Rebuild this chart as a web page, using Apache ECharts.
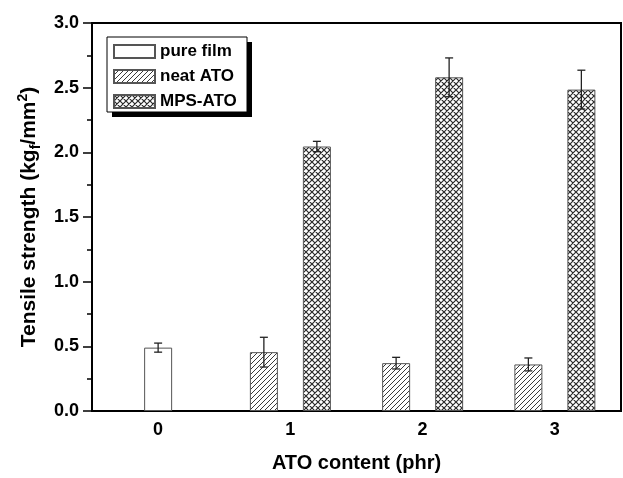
<!DOCTYPE html>
<html><head><meta charset="utf-8">
<script src="https://cdn.jsdelivr.net/npm/echarts@6/dist/echarts.min.js"></script>
<style>html,body{margin:0;padding:0;background:#fff}#c{width:623px;height:478px}</style>
</head><body><div id="c"></div>
<script>
const categories = ['0', '1', '2', '3'];
const pureFilm = [0.49, null, null, null];
const pureFilmErr = [0.035, null, null, null];
const neatATO = [null, 0.455, 0.37, 0.36];
const neatATOErr = [null, 0.115, 0.045, 0.05];
const mpsATO = [null, 2.045, 2.58, 2.485];
const mpsATOErr = [null, 0.04, 0.15, 0.15];
const yTicks = [0, 0.5, 1.0, 1.5, 2.0, 2.5, 3.0];

function makePattern(kind) {
  const s = kind === 'hatch' ? 5 : 6;
  const c = document.createElement('canvas');
  c.width = s; c.height = s;
  const g = c.getContext('2d');
  g.fillStyle = '#fff'; g.fillRect(0, 0, s, s);
  g.strokeStyle = kind === 'hatch' ? '#3a3a3a' : '#2a2a2a';
  g.lineWidth = kind === 'hatch' ? 1 : 1.2;
  g.beginPath();
  for (const k of [-s, 0, s]) {
    g.moveTo(k, s); g.lineTo(k + s, 0);
    if (kind === 'cross') { g.moveTo(k, 0); g.lineTo(k + s, s); }
  }
  g.stroke();
  return c;
}

const BAR_W = 28, GAP = 25;
const OFF = (BAR_W + GAP) / 2;
const FONT = "'Liberation Sans', Arial, sans-serif";

function errSeries(vals, errs, offset) {
  const data = [];
  vals.forEach((v, i) => { if (v != null) data.push([i, v, errs[i]]); });
  return {
    type: 'custom', xAxisIndex: 0, yAxisIndex: 0, z: 10, silent: true,
    data: data,
    renderItem: function (params, api) {
      const x = api.value(0), v = api.value(1), e = api.value(2);
      const top = api.coord([x, v + e]);
      const bot = api.coord([x, v - e]);
      const cx = top[0] + offset;
      const cap = 4;
      const st = { stroke: '#222', lineWidth: 1.3 };
      return { type: 'group', children: [
        { type: 'line', shape: { x1: cx, y1: top[1], x2: cx, y2: bot[1] }, style: st },
        { type: 'line', shape: { x1: cx - cap, y1: top[1], x2: cx + cap, y2: top[1] }, style: st },
        { type: 'line', shape: { x1: cx - cap, y1: bot[1], x2: cx + cap, y2: bot[1] }, style: st }
      ]};
    }
  };
}

const chart = echarts.init(document.getElementById('c'), null, { renderer: 'canvas' });
const labelStyle = { color: '#000', fontWeight: 'bold', fontSize: 18, fontFamily: FONT };
chart.setOption({
  animation: false,
  backgroundColor: '#fff',
  grid: { left: 92, right: 2, top: 23, bottom: 66, show: true, borderColor: '#000', borderWidth: 2, backgroundColor: 'transparent' },
  graphic: [
    { type: 'rect', z: 3, shape: { x: 112, y: 42, width: 140, height: 75 }, style: { fill: '#000' } },
    { type: 'rect', z: 3, shape: { x: 107, y: 37, width: 140, height: 75 }, style: { fill: '#fff', stroke: '#000', lineWidth: 1 } }
  ],
  legend: {
    data: ['pure film', 'neat ATO', 'MPS-ATO'],
    orient: 'vertical', left: 113, top: 43, z: 5,
    itemWidth: 41, itemHeight: 13, itemGap: 8,
    padding: 0,
    icon: 'rect',
    textStyle: { color: '#000', fontWeight: 'bold', fontSize: 17, fontFamily: FONT },
    selectedMode: false
  },
  xAxis: [{
    type: 'category', data: categories,
    name: 'ATO content (phr)', nameLocation: 'middle', nameGap: 42,
    nameTextStyle: { color: '#000', fontWeight: 'bold', fontSize: 20, fontFamily: FONT },
    axisLine: { lineStyle: { color: '#000', width: 2 } },
    axisTick: { alignWithLabel: true, length: 7, lineStyle: { color: '#000', width: 2 } },
    axisLabel: Object.assign({ margin: 10 }, labelStyle),
    splitLine: { show: false }
  }, {
    type: 'category', data: categories, show: false
  }],
  yAxis: {
    type: 'value', min: 0, max: 3, interval: 0.5,
    name: 'Tensile strength (kg{sub|f}/mm{sup|2})', nameLocation: 'middle', nameGap: 48,
    nameTextStyle: {
      color: '#000', fontWeight: 'bold', fontSize: 21, fontFamily: FONT, lineHeight: 27,
      rich: {
        sub: { fontSize: 14, fontWeight: 'bold', fontFamily: FONT, color: '#000', verticalAlign: 'bottom' },
        sup: { fontSize: 14, fontWeight: 'bold', fontFamily: FONT, color: '#000', verticalAlign: 'top' }
      }
    },
    axisLine: { show: true, lineStyle: { color: '#000', width: 2 } },
    axisTick: { show: true, length: 9, lineStyle: { color: '#000', width: 1.5 } },
    minorTick: { show: true, splitNumber: 2, length: 5, lineStyle: { color: '#000', width: 1.5 } },
    axisLabel: Object.assign({ margin: 13, formatter: v => v.toFixed(1),
      customValues: yTicks }, labelStyle),
    splitLine: { show: false }
  },
  series: [
    { name: 'pure film', type: 'bar', xAxisIndex: 1, data: pureFilm, barWidth: BAR_W,
      itemStyle: { color: '#fff', borderColor: '#555', borderWidth: 1 } },
    { name: 'neat ATO', type: 'bar', xAxisIndex: 0, data: neatATO, barWidth: BAR_W, barGap: (GAP / BAR_W * 100) + '%',
      itemStyle: { color: { image: makePattern('hatch'), repeat: 'repeat' }, borderColor: '#555', borderWidth: 1 } },
    { name: 'MPS-ATO', type: 'bar', xAxisIndex: 0, data: mpsATO, barWidth: BAR_W, barGap: (GAP / BAR_W * 100) + '%',
      itemStyle: { color: { image: makePattern('cross'), repeat: 'repeat' }, borderColor: '#555', borderWidth: 1 } },
    errSeries(pureFilm, pureFilmErr, 0),
    errSeries(neatATO, neatATOErr, -OFF),
    errSeries(mpsATO, mpsATOErr, OFF)
  ]
});
</script></body></html>
